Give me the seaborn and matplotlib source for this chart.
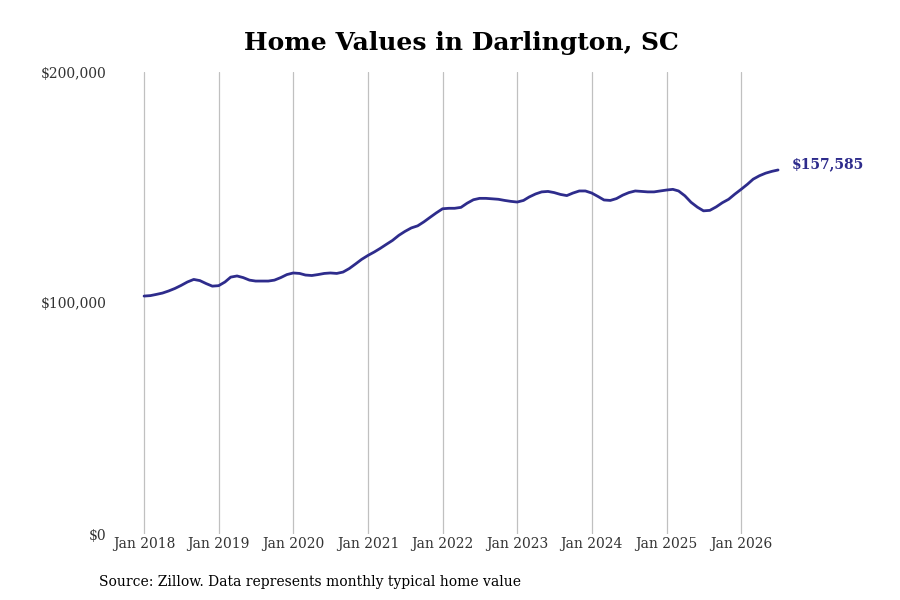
import pandas as pd
import numpy as np
import matplotlib.pyplot as plt
import seaborn as sns

# monthly typical home value, Jan 2018 - Jul 2026
months = pd.date_range("2018-01-01", "2026-07-01", freq="MS")
values = [
    103000, 103200, 103700, 104300, 105200, 106300, 107600, 109100, 110200, 109700, 108400, 107300,  # 2018
    107500, 109100, 111200, 111700, 111000, 109900, 109500, 109500, 109500, 109900, 111000, 112300,  # 2019
    113000, 112800, 112100, 111900, 112300, 112800, 113000, 112800, 113400, 114900, 116900, 118900,  # 2020
    120600, 122100, 123600, 125400, 127100, 129300, 131000, 132500, 133400, 135100, 137100, 139000,  # 2021
    140800, 141000, 141000, 141400, 143200, 144700, 145300, 145300, 145100, 144900, 144400, 144000,  # 2022
    143700, 144400, 145900, 147200, 148100, 148300, 147800, 147000, 146500, 147600, 148500, 148500,  # 2023
    147600, 146100, 144600, 144400, 145200, 146700, 147800, 148500, 148300, 148100, 148100, 148500,  # 2024
    148900, 149200, 148500, 146400, 143600, 141500, 139900, 140100, 141600, 143400, 144900, 147100,  # 2025
    149200, 151400, 153600, 155100, 156200, 157000, 157585,                                          # 2026
]
tick_years = list(range(2018, 2027))
ytick_vals = [0, 100000, 200000]
ytick_labels = ["$0", "$100,000", "$200,000"]

df = pd.DataFrame({"month": months, "value": values})

line_color = "#2e2c8c"

sns.set_theme(style="white")
plt.rcParams["font.family"] = ["DejaVu Serif"]

fig = plt.figure(figsize=(9, 6), dpi=100)
ax = fig.add_axes([112 / 900, 66 / 600, (860 - 112) / 900, 462 / 600])

sns.lineplot(data=df, x="month", y="value", ax=ax, color=line_color, linewidth=2.0)

ax.set_ylim(0, 200000)
ax.set_xlim(pd.Timestamp("2018-01-01") - pd.Timedelta(days=157),
            pd.Timestamp("2026-01-01") + pd.Timedelta(days=582))

ax.set_xticks([pd.Timestamp(f"{y}-01-01") for y in tick_years])
ax.set_xticklabels([f"Jan {y}" for y in tick_years], fontsize=10, color="#333333")
ax.set_yticks(ytick_vals)
ax.set_yticklabels(ytick_labels, fontsize=10, color="#333333")
ax.tick_params(axis="both", length=0, pad=4)
ax.tick_params(axis="x", pad=2)

ax.grid(axis="x", color="#c0c0c0", linewidth=0.9)
ax.grid(axis="y", visible=False)
for s in ax.spines.values():
    s.set_visible(False)
ax.set_xlabel("")
ax.set_ylabel("")

ax.annotate(f"${values[-1]:,}", xy=(months[-1], values[-1]), xytext=(10, 4),
            textcoords="offset points", va="center", ha="left",
            fontsize=10, fontweight="bold", color=line_color)

fig.suptitle("Home Values in Darlington, SC", x=461 / 900, y=1 - 43 / 600,
             va="center", fontsize=18, fontweight="bold", color="black")
fig.text(99 / 900, 1 - 582 / 600, "Source: Zillow. Data represents monthly typical home value",
         va="center", ha="left", fontsize=10, color="black")

fig.savefig("out.png", dpi=100)
